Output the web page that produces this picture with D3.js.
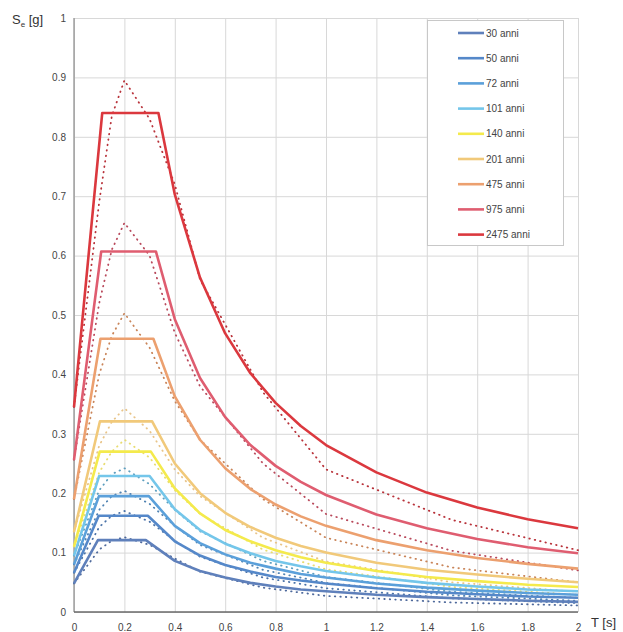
<!DOCTYPE html>
<html>
<head>
<meta charset="utf-8">
<script src="https://cdn.jsdelivr.net/npm/d3@7"></script>
<style>
  html, body { margin: 0; padding: 0; background: #fff; }
  svg { display: block; font-family: "Liberation Sans", Arial, sans-serif; }
</style>
</head>
<body>
<svg id="chart" width="623" height="632"></svg>
<script>
// Return periods and the colour of each spectrum
const returnPeriods = ["30 anni", "50 anni", "72 anni", "101 anni", "140 anni", "201 anni", "475 anni", "975 anni", "2475 anni"];
const seriesColors = ["#5f80bb", "#5588c9", "#5ba0da", "#74c6ea", "#f4ea4c", "#f1c97a", "#eca06f", "#df5d70", "#db383e"];
// Colour of the dotted hazard spectrum that goes with each return period
const dotColors = ["#4f6a9c", "#4a72a8", "#4f82b2", "#5e9fbf", "#e8dc70", "#e8c488", "#c98458", "#b94a5c", "#b8323a"];

// Design spectra: value at T=0, plateau value, plateau start/end periods
const seAtZero  = [0.048, 0.066, 0.080, 0.095, 0.110, 0.135, 0.190, 0.256, 0.345];
const sePlateau = [0.121, 0.162, 0.195, 0.229, 0.270, 0.321, 0.460, 0.607, 0.840];
const periodTB  = [0.095, 0.098, 0.099, 0.100, 0.102, 0.103, 0.105, 0.108, 0.112];
const periodTC  = [0.285, 0.293, 0.297, 0.300, 0.305, 0.310, 0.315, 0.325, 0.335];

// Descending branch of the design spectra
const tailPeriods = [0.4, 0.5, 0.6, 0.7, 0.8, 0.9, 1.0, 1.2, 1.4, 1.6, 1.8, 2.0];
const tail30   = [0.086, 0.069, 0.058, 0.049, 0.043, 0.038, 0.035, 0.029, 0.025, 0.022, 0.019, 0.017];
const tail50   = [0.119, 0.095, 0.079, 0.068, 0.059, 0.053, 0.048, 0.040, 0.034, 0.030, 0.026, 0.024];
const tail72   = [0.145, 0.116, 0.097, 0.083, 0.073, 0.064, 0.058, 0.048, 0.041, 0.036, 0.032, 0.029];
const tail101  = [0.173, 0.138, 0.115, 0.099, 0.086, 0.077, 0.069, 0.058, 0.049, 0.043, 0.038, 0.035];
const tail140  = [0.208, 0.166, 0.138, 0.119, 0.104, 0.092, 0.083, 0.069, 0.059, 0.052, 0.046, 0.042];
const tail201  = [0.250, 0.200, 0.167, 0.143, 0.125, 0.111, 0.100, 0.083, 0.071, 0.063, 0.056, 0.050];
const tail475  = [0.363, 0.290, 0.242, 0.207, 0.181, 0.161, 0.145, 0.121, 0.104, 0.091, 0.081, 0.073];
const tail975  = [0.493, 0.394, 0.328, 0.281, 0.246, 0.219, 0.197, 0.164, 0.141, 0.123, 0.109, 0.099];
const tail2475 = [0.703, 0.563, 0.469, 0.402, 0.352, 0.313, 0.281, 0.235, 0.201, 0.176, 0.156, 0.141];
const tails = [tail30, tail50, tail72, tail101, tail140, tail201, tail475, tail975, tail2475];

// Uniform hazard spectra (dotted), given at discrete periods
const uhsPeriods = [0, 0.1, 0.15, 0.2, 0.3, 0.4, 0.5, 0.75, 1.0, 1.5, 2.0];
const uhs30   = [0.048, 0.105, 0.120, 0.126, 0.113, 0.090, 0.068, 0.041, 0.027, 0.016, 0.011];
const uhs50   = [0.066, 0.143, 0.162, 0.170, 0.152, 0.120, 0.093, 0.058, 0.040, 0.023, 0.015];
const uhs72   = [0.080, 0.172, 0.195, 0.204, 0.182, 0.145, 0.113, 0.071, 0.049, 0.028, 0.019];
const uhs101  = [0.095, 0.205, 0.232, 0.242, 0.215, 0.172, 0.136, 0.086, 0.059, 0.034, 0.024];
const uhs140  = [0.110, 0.235, 0.270, 0.290, 0.260, 0.205, 0.165, 0.105, 0.072, 0.042, 0.029];
const uhs201  = [0.135, 0.280, 0.320, 0.343, 0.305, 0.240, 0.195, 0.125, 0.085, 0.050, 0.034];
const uhs475  = [0.190, 0.400, 0.465, 0.503, 0.445, 0.355, 0.290, 0.190, 0.125, 0.075, 0.050];
const uhs975  = [0.256, 0.520, 0.610, 0.655, 0.600, 0.470, 0.380, 0.250, 0.165, 0.103, 0.070];
const uhs2475 = [0.345, 0.690, 0.835, 0.895, 0.830, 0.720, 0.560, 0.370, 0.240, 0.155, 0.104];
const uhsSeries = [uhs30, uhs50, uhs72, uhs101, uhs140, uhs201, uhs475, uhs975, uhs2475];

// Axis ticks
const xTicks = [0, 0.2, 0.4, 0.6, 0.8, 1, 1.2, 1.4, 1.6, 1.8, 2];
const xTickLabels = ["0", "0.2", "0.4", "0.6", "0.8", "1", "1.2", "1.4", "1.6", "1.8", "2"];
const yTicks = [0, 0.1, 0.2, 0.3, 0.4, 0.5, 0.6, 0.7, 0.8, 0.9, 1];
const yTickLabels = ["0", "0.1", "0.2", "0.3", "0.4", "0.5", "0.6", "0.7", "0.8", "0.9", "1"];

const svg = d3.select("#chart");
const plot = { left: 74, right: 578, top: 18, bottom: 612 };

const x = d3.scaleLinear().domain([0, 2]).range([plot.left, plot.right]);
const y = d3.scaleLinear().domain([0, 1]).range([plot.bottom, plot.top]);

// Grid
const grid = svg.append("g");
grid.append("g")
  .attr("transform", `translate(0,${plot.bottom})`)
  .call(d3.axisBottom(x).tickValues(xTicks).tickSize(-(plot.bottom - plot.top)).tickFormat(""))
  .call(g => g.select(".domain").remove())
  .call(g => g.selectAll("line").attr("stroke", "#d8d8d8").attr("stroke-width", 1));
grid.append("g")
  .attr("transform", `translate(${plot.left},0)`)
  .call(d3.axisLeft(y).tickValues(yTicks).tickSize(-(plot.right - plot.left)).tickFormat(""))
  .call(g => g.select(".domain").remove())
  .call(g => g.selectAll("line").attr("stroke", "#d8d8d8").attr("stroke-width", 1));

// Axis lines
svg.append("line").attr("x1", plot.left).attr("x2", plot.left)
  .attr("y1", plot.top).attr("y2", plot.bottom).attr("stroke", "#8a8a8a").attr("stroke-width", 1.2);
svg.append("line").attr("x1", plot.left).attr("x2", plot.right)
  .attr("y1", plot.bottom).attr("y2", plot.bottom).attr("stroke", "#6a6a6a").attr("stroke-width", 1.3);

// Tick labels
const xAxis = svg.append("g")
  .attr("transform", `translate(0,${plot.bottom})`)
  .call(d3.axisBottom(x).tickValues(xTicks).tickSize(0).tickPadding(12)
    .tickFormat((d, i) => xTickLabels[i]));
xAxis.select(".domain").remove();
xAxis.selectAll("text").attr("font-size", 10).attr("fill", "#444")
  .attr("font-family", "'Liberation Sans', Arial, sans-serif");

const yAxis = svg.append("g")
  .attr("transform", `translate(${plot.left},0)`)
  .call(d3.axisLeft(y).tickValues(yTicks).tickSize(0).tickPadding(8)
    .tickFormat((d, i) => yTickLabels[i]));
yAxis.select(".domain").remove();
yAxis.selectAll("text").attr("font-size", 10).attr("fill", "#444")
  .attr("font-family", "'Liberation Sans', Arial, sans-serif");

// Axis titles
const yTitle = svg.append("text").attr("x", 12).attr("y", 24)
  .attr("font-size", 13).attr("fill", "#333");
yTitle.append("tspan").text("S");
yTitle.append("tspan").attr("font-size", 8).attr("dy", 3).text("e");
yTitle.append("tspan").attr("dy", -3).text(" [g]");

svg.append("text").attr("x", 591).attr("y", 627)
  .attr("font-size", 13).attr("fill", "#333").text("T [s]");

const line = d3.line().x(d => x(d[0])).y(d => y(d[1]));

// Dotted hazard spectra
uhsSeries.forEach((vals, i) => {
  const pts = uhsPeriods.map((t, j) => [t, vals[j]]);
  svg.append("path")
    .attr("d", line(pts))
    .attr("fill", "none")
    .attr("stroke", dotColors[i])
    .attr("stroke-width", 1.8)
    .attr("stroke-linecap", "round")
    .attr("stroke-dasharray", "0.5,5");
});

// Design spectra
returnPeriods.forEach((name, i) => {
  const pts = [[0, seAtZero[i]], [periodTB[i], sePlateau[i]], [periodTC[i], sePlateau[i]]];
  tailPeriods.forEach((t, j) => { if (t > periodTC[i]) pts.push([t, tails[i][j]]); });
  svg.append("path")
    .attr("d", line(pts))
    .attr("fill", "none")
    .attr("stroke", seriesColors[i])
    .attr("stroke-width", 2.6)
    .attr("stroke-linejoin", "round");
});

// Legend
const legend = svg.append("g");
legend.append("rect").attr("x", 427.5).attr("y", 20.5).attr("width", 136).attr("height", 225)
  .attr("fill", "#fff").attr("stroke", "#c8c8c8").attr("stroke-width", 1);
returnPeriods.forEach((name, i) => {
  const ly = 33 + i * 25.2;
  legend.append("line").attr("x1", 458).attr("x2", 484).attr("y1", ly).attr("y2", ly)
    .attr("stroke", seriesColors[i]).attr("stroke-width", 2.6);
  legend.append("text").attr("x", 486).attr("y", ly + 3.5)
    .attr("font-size", 10).attr("fill", "#444").text(name);
});
</script>
</body>
</html>
